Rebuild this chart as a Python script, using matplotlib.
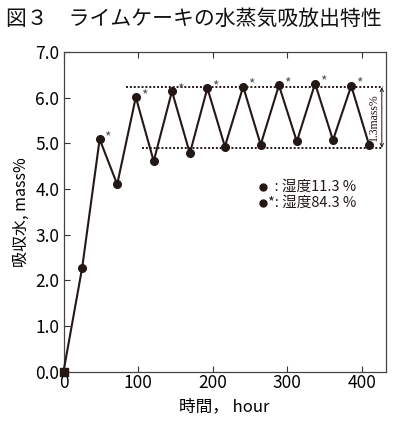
import matplotlib
matplotlib.use("Agg")
import matplotlib.pyplot as plt

plt.rcParams['font.family'] = ['Noto Sans CJK JP', 'DejaVu Sans']

title = "図３　ライムケーキの水蒸気吸放出特性"
xlabel = "時間， hour"
ylabel = "吸収水, mass%"
hours = [0, 25, 48.5, 72, 97, 121, 145.5, 169.5, 193, 216.5, 241, 264.5, 289, 313, 337.5, 361.5, 386, 410]
values = [0, 2.27, 5.09, 4.10, 6.01, 4.61, 6.14, 4.78, 6.21, 4.93, 6.24, 4.97, 6.27, 5.04, 6.31, 5.07, 6.26, 4.96]
high_idx = [2, 4, 6, 8, 10, 12, 14, 16]
upper_level = 6.23
lower_level = 4.90
upper_span = [84.5, 429]
lower_span = [104.7, 429]
band_label = "1.3mass%"
legend_lines = ["  : 湿度11.3 %", "*: 湿度84.3 %"]
xticks = [0, 100, 200, 300, 400]
yticks = [0, 1, 2, 3, 4, 5, 6, 7]

col = '#231815'
fig = plt.figure(figsize=(3.93, 4.23), dpi=100)
ax = fig.add_axes([0.1616, 0.1217, 0.8194, 0.7553])
ax.set_xlim(0, 432)
ax.set_ylim(0, 7)

ax.plot(hours[1:], values[1:], '-o', color=col, lw=1.5, ms=5.5, zorder=3, clip_on=False)
ax.plot([hours[0], hours[1]], [values[0], values[1]], '-', color=col, lw=1.5, zorder=3, clip_on=False)
ax.plot([hours[0]], [values[0]], 's', color=col, ms=6, zorder=4, clip_on=False)
for i in high_idx:
    ax.annotate('*', (hours[i], values[i]), xytext=(3.5, -3.5), textcoords='offset points',
                fontsize=10, color='#555555', va='bottom', ha='left')

ax.plot(upper_span, [upper_level]*2, color=col, lw=1.4, ls=(0, (1, 1)), zorder=2)
ax.plot(lower_span, [lower_level]*2, color=col, lw=1.4, ls=(0, (1, 1)), zorder=2)
ax.annotate('', xy=(427, upper_level), xytext=(427, lower_level),
            arrowprops=dict(arrowstyle='<->', color=col, lw=0.7, mutation_scale=6, shrinkA=0, shrinkB=0))
ax.text(417, (upper_level + lower_level) / 2, band_label, rotation=90, ha='center', va='center',
        fontsize=8.5, family='Liberation Serif', color=col)

ax.plot([0.62], [0.578], 'o', color=col, ms=5, transform=ax.transAxes, clip_on=False)
ax.plot([0.62], [0.528], 'o', color=col, ms=5, transform=ax.transAxes, clip_on=False)
ax.text(0.635, 0.578, legend_lines[0], transform=ax.transAxes, fontsize=10.5, va='center', ha='left', color=col)
ax.text(0.635, 0.528, legend_lines[1], transform=ax.transAxes, fontsize=10.5, va='center', ha='left', color=col)

ax.set_xticks(xticks)
ax.set_yticks(yticks)
ax.set_yticklabels([f"{v:.1f}" for v in yticks])
ax.tick_params(axis='x', direction='in', length=4, top=True, labelsize=12.5, pad=2, color='#333333')
ax.tick_params(axis='y', direction='in', length=4, labelsize=12.5, pad=3, color='#333333')
for s in ax.spines.values():
    s.set_color('#444444')
    s.set_linewidth(0.9)

ax.set_xlabel(xlabel, fontsize=12, labelpad=4)
ax.set_ylabel(ylabel, fontsize=11.5, labelpad=4)
fig.text(0.015, 0.955, title, fontsize=15, ha='left', va='center', color='#111111')

fig.savefig('out.png', dpi=100)
